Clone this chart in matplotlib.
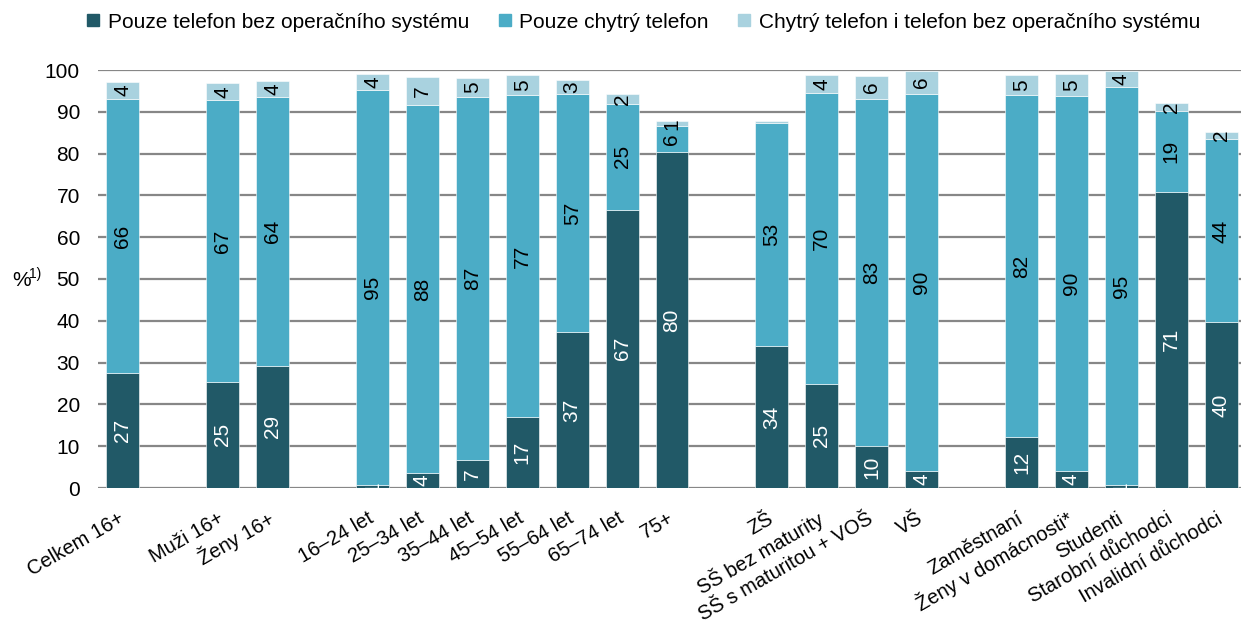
import matplotlib
matplotlib.use("Agg")
import matplotlib.pyplot as plt
from matplotlib.lines import Line2D

plt.rcParams['font.family'] = ['Liberation Sans', 'DejaVu Sans']

categories = [
    "Celkem 16+",
    "Muži 16+", "Ženy 16+",
    "16–24 let", "25–34 let", "35–44 let", "45–54 let", "55–64 let", "65–74 let", "75+",
    "ZŠ", "SŠ bez maturity", "SŠ s maturitou + VOŠ", "VŠ",
    "Zaměstnaní", "Ženy v domácnosti*", "Studenti", "Starobní důchodci", "Invalidní důchodci",
]
group_sizes = [1, 2, 7, 4, 5]

basic_only = [27.4, 25.4, 29.3, 0.6, 3.5, 6.8, 17.1, 37.3, 66.6, 80.3,
              34.0, 25.0, 10.1, 4.1, 12.1, 4.1, 0.6, 70.9, 39.6]
smart_only = [65.7, 67.4, 64.2, 94.6, 88.1, 86.8, 76.8, 57.0, 25.3, 6.3,
              53.3, 69.6, 82.9, 90.1, 81.8, 89.6, 95.3, 19.3, 43.8]
both = [4.1, 4.0, 3.9, 3.9, 6.8, 4.6, 4.8, 3.4, 2.4, 1.1,
        0.4, 4.1, 5.6, 5.6, 5.0, 5.3, 3.9, 1.8, 1.8]

series_names = ["Pouze telefon bez operačního systému", "Pouze chytrý telefon",
                "Chytrý telefon i telefon bez operačního systému"]
colors = ["#215967", "#4BACC6", "#A9D2DF"]
text_colors = ["white", "black", "black"]

# slot positions with one empty slot between groups
xpos = []
slot = 0
for size in group_sizes:
    for i in range(size):
        xpos.append(slot)
        slot += 1
    slot += 1

fig = plt.figure(figsize=(12.41, 6.31), dpi=100)
ax = fig.add_axes([98 / 1241, 1 - 488 / 631, 1 - 98 / 1241, (488 - 70) / 631])

bottom = [0] * len(categories)
for vals, col, tcol in zip([basic_only, smart_only, both], colors, text_colors):
    ax.bar(xpos, vals, width=0.66, bottom=bottom, color=col, edgecolor="white",
           linewidth=0.4, zorder=3)
    for x, b, v in zip(xpos, bottom, vals):
        if v >= 0.5:
            ax.text(x, b + v / 2, f"{v:.0f}", rotation=90, ha="center", va="center",
                    color=tcol, fontsize=15, zorder=4, clip_on=True)
    bottom = [b + v for b, v in zip(bottom, vals)]

ax.set_ylim(0, 100)
ax.set_xlim(-0.5, 22.4)
ax.set_yticks(range(0, 101, 10))
ax.yaxis.grid(True, color="#878787", linewidth=1.6, zorder=0)
ax.set_axisbelow(True)
for s in ax.spines.values():
    s.set_visible(False)
ax.tick_params(axis="y", length=0, pad=13, labelsize=15)
ax.tick_params(axis="x", length=0, pad=21, labelsize=14.5)
ax.set_xticks(xpos)
ax.set_xticklabels(categories, rotation=30, ha="right", va="center",
                   rotation_mode="anchor")

fig.text(12 / 1241, 1 - 280 / 631, "%", fontsize=15, va="center", ha="left")
fig.text(29 / 1241, 1 - 274 / 631, "1)", fontsize=10, va="center", ha="left")

handles = [Line2D([], [], marker="s", linestyle="none", markersize=9,
                  markerfacecolor=c, markeredgecolor=c) for c in colors]
fig.legend(handles, series_names, loc="center", bbox_to_anchor=(0.517, 0.965),
           ncol=3, frameon=False, fontsize=15, handletextpad=0.2,
           columnspacing=1.2, handlelength=1.0)

fig.savefig("out.png", dpi=100)
